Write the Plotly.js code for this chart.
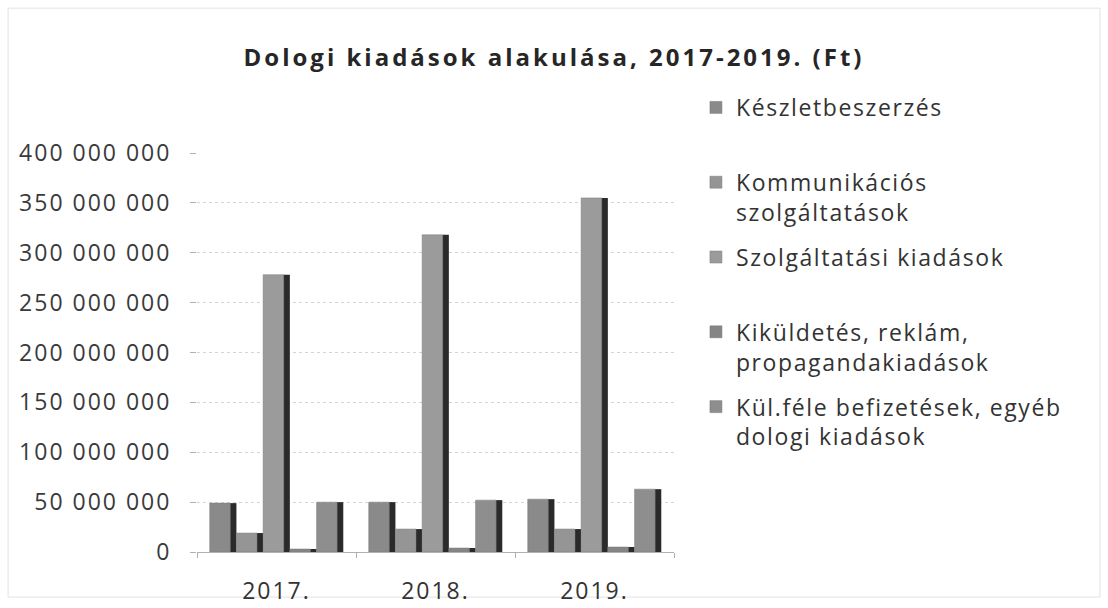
<!DOCTYPE html>
<html>
<head>
<meta charset="utf-8">
<script src="https://cdn.plot.ly/plotly-3.0.1.min.js"></script>
<style>
  html, body { margin: 0; padding: 0; background: #ffffff; }
  #chart { width: 1108px; height: 608px; }
  .legendtext { letter-spacing: 1.6px; }
  .gtitle { letter-spacing: 3px; }
  .ytick text { letter-spacing: 2px; }
  .xtick text { letter-spacing: 2px; }
</style>
</head>
<body>
<div id="chart"></div>
<script>
// Categories
const years = ['2017.', '2018.', '2019.'];

// Series names (legend labels)
const seriesNames = [
  'Készletbeszerzés<br>\u00a0',
  'Kommunikációs<br>szolgáltatások',
  'Szolgáltatási kiadások<br>\u00a0',
  'Kiküldetés, reklám,<br>propagandakiadások',
  'Kül.féle befizetések, egyéb<br>dologi kiadások'
];

// Values (Ft)
const keszletbeszerzes = [49000000, 50000000, 53000000];
const kommunikacios    = [19000000, 23000000, 23000000];
const szolgaltatasi    = [278000000, 318000000, 355000000];
const kikuldetes       = [3000000, 4000000, 5000000];
const kulfele          = [50000000, 52000000, 63000000];

// Y tick values
const yTicks = [0, 50000000, 100000000, 150000000, 200000000, 250000000, 300000000, 350000000, 400000000];

const seriesValues = [keszletbeszerzes, kommunikacios, szolgaltatasi, kikuldetes, kulfele];
const seriesColors = ['#8a8a8a', '#959595', '#9b9b9b', '#858585', '#8e8e8e'];

// Bar geometry (style): grouped slots with a darker right-hand side face
const groupWidth = 0.84;
const slot = groupWidth / seriesValues.length;
const faceFrac = 0.77;

const traces = [];
// dark side strips first (drawn beneath)
seriesValues.forEach((vals, i) => {
  traces.push({
    type: 'bar',
    name: seriesNames[i],
    x: years,
    y: vals,
    showlegend: false,
    offset: -groupWidth / 2 + i * slot + slot * faceFrac - slot * 0.02,
    width: slot * (1 - faceFrac) + slot * 0.02,
    marker: { color: '#2a2a2a', line: { width: 0 } },
    hoverinfo: 'skip'
  });
});
// front faces
seriesValues.forEach((vals, i) => {
  traces.push({
    type: 'bar',
    name: seriesNames[i],
    x: years,
    y: vals,
    legendgroup: 'g' + i,
    offset: -groupWidth / 2 + i * slot,
    width: slot * faceFrac,
    marker: { color: seriesColors[i], line: { color: '#7a7a7a', width: 0.5 } },
    hoverinfo: 'x+y'
  });
});

const layout = {
  width: 1108,
  height: 608,
  margin: { l: 197, r: 434, t: 153, b: 56 },
  paper_bgcolor: '#ffffff',
  plot_bgcolor: '#ffffff',
  separators: ', ',
  barmode: 'overlay',
  title: {
    text: '<b>Dologi kiadások alakulása, 2017-2019. (Ft)</b>',
    font: { family: '"Open Sans", sans-serif', size: 24, color: '#262626' },
    x: 0.5,
    xanchor: 'center',
    y: 0.906,
    yanchor: 'middle'
  },
  font: { family: '"Open Sans", sans-serif', color: '#333333' },
  xaxis: {
    type: 'category',
    showgrid: false,
    showline: true,
    linecolor: '#b0b0b0',
    linewidth: 1,
    ticks: 'outside',
    tickson: 'boundaries',
    ticklen: 5,
    tickcolor: '#b0b0b0',
    tickfont: { family: '"Open Sans", sans-serif', size: 23, color: '#333333' },
    ticklabelstandoff: 18
  },
  yaxis: {
    range: [0, 400000000],
    tickvals: yTicks,
    tickformat: ',d',
    showgrid: true,
    gridcolor: '#d4d4d4',
    griddash: 'dot',
    gridwidth: 1,
    zeroline: false,
    showline: false,
    ticks: 'outside',
    ticklen: 6,
    tickcolor: '#b0b0b0',
    tickfont: { family: '"Open Sans", sans-serif', size: 23, color: '#3a3a3a' },
    ticklabelstandoff: 14
  },
  legend: {
    x: 1.046,
    xanchor: 'left',
    y: 1.168,
    yanchor: 'top',
    valign: 'top',
    tracegroupgap: 12,
    itemwidth: 30,
    maxheight: 560,
    font: { family: '"Open Sans", sans-serif', size: 23, color: '#333333' },
    bgcolor: 'rgba(0,0,0,0)'
  },
  shapes: [{
    type: 'rect',
    xref: 'paper', yref: 'paper',
    x0: -0.396, x1: 1.893, y0: -0.113, y1: 1.363,
    line: { color: '#e2e2e2', width: 1 },
    fillcolor: 'rgba(0,0,0,0)',
    layer: 'below'
  }],
  showlegend: true
};

Plotly.newPlot('chart', traces, layout, { displayModeBar: false, staticPlot: true });
</script>
</body>
</html>
